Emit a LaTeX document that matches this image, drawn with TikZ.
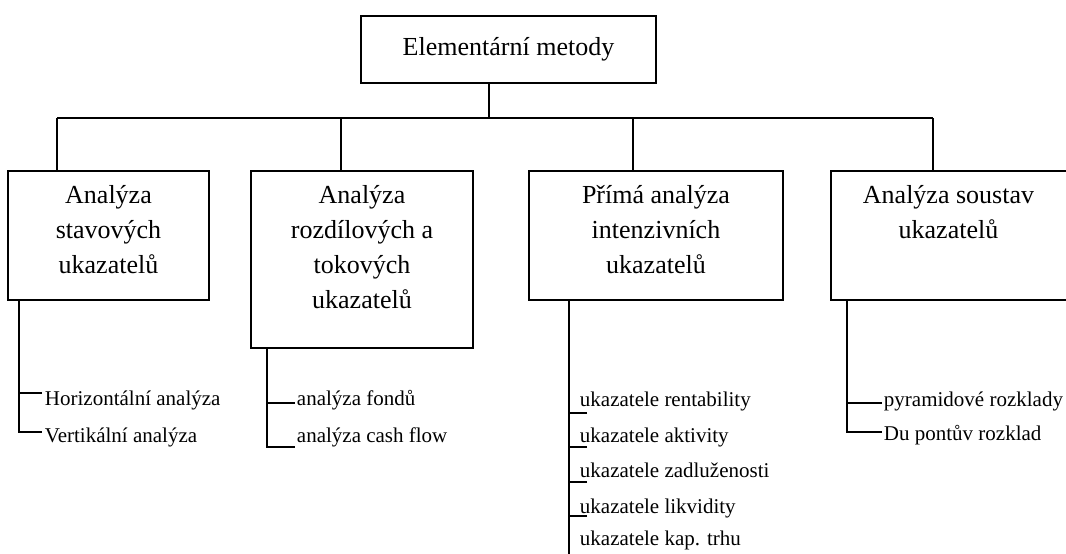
\documentclass[tikz,border=0pt]{standalone}
\usepackage{fontspec}
\setmainfont{Liberation Serif}
\usetikzlibrary{positioning}
\newcommand{\boxfont}{\fontsize{26}{35}\selectfont}
\newcommand{\itemfont}{\fontsize{21}{25}\selectfont}
\begin{document}
\begin{tikzpicture}[x=1pt, y=-1pt, line width=1.9pt, line join=miter,
	box/.style={draw, rectangle, inner sep=0pt, font=\boxfont},
	head/.style={anchor=north, align=center, inner sep=0pt, font=\boxfont},
	item/.style={anchor=base west, inner sep=0pt, font=\itemfont}]
	\useasboundingbox (0,0) rectangle (1066,554);
	% top box
	\node[box, minimum width=295pt, minimum height=67pt] (top) at (508.5,49.5) {Elementární metody};
	% four boxes
	\node[box, minimum width=201pt, minimum height=129pt] (b1) at (108.5,235.5) {};
	\node[box, minimum width=222pt, minimum height=177pt] (b2) at (362,259.5) {};
	\node[box, minimum width=254pt, minimum height=129pt] (b3) at (656,235.5) {};
	\node[box, minimum width=237pt, minimum height=129pt] (b4) at (949.5,235.5) {};
	\node[head, below=14pt of b1.north] (h1) {Analýza\\stavových\\ukazatelů};
	\node[head, below=14pt of b2.north] (h2) {Analýza\\rozdílových a\\tokových\\ukazatelů};
	\node[head, below=14pt of b3.north] (h3) {Přímá analýza\\intenzivních\\ukazatelů};
	\node[head, below=14pt of b4.north, xshift=-1pt] (h4) {Analýza soustav\\ukazatelů};
	% tree
	\coordinate (d0) at (489,118);
	\coordinate (d1) at (57,118);
	\coordinate (d2) at (341,118);
	\coordinate (d3) at (633,118);
	\coordinate (d4) at (933,118);
	\draw (top.south -| d0) -- (d0);
	\draw (d1) -- (d4);
	\foreach \i in {1,...,4} \draw (d\i) -- (d\i |- b\i.north);
	% items
	\node[item] (i11) at (44,405) {Horizontální analýza};
	\node[item] (i12) at (44,442) {Vertikální analýza};
	\node[item] (i21) at (296,405) {analýza fondů};
	\node[item] (i22) at (296,442) {analýza cash flow};
	\node[item] (i31) at (579,406) {ukazatele rentability};
	\node[item] (i32) at (579,442) {ukazatele aktivity};
	\node[item] (i33) at (579,477) {ukazatele zadluženosti};
	\node[item] (i34) at (579,513) {ukazatele likvidity};
	\node[item] (i35) at (579,545) {ukazatele kap. trhu};
	\node[item] (i41) at (883,406) {pyramidové rozklady};
	\node[item] (i42) at (883,440) {Du pontův rozklad};
	% item lines
	\draw (b1.south -| 19,0) |- ([xshift=-2pt,yshift=10pt]i12.base west);
	\draw ([xshift=-2pt,yshift=12pt]i11.base west) -- ++(-23,0);
	\draw (b2.south -| 267,0) |- ([xshift=-1pt,yshift=-5pt]i22.base west);
	\draw ([xshift=-1pt,yshift=2pt]i21.base west) -- ++(-28,0);
	\draw (b3.south -| 569,0) -- (569,554);
	\foreach \k/\s in {1/7,2/5,3/5,4/3}
		\draw ([xshift=8pt,yshift=-\s pt]i3\k.base west) -- ++(-18,0);
	\draw (b4.south -| 847,0) |- ([xshift=-1pt,yshift=8pt]i42.base west);
	\draw ([xshift=-1pt,yshift=3pt]i41.base west) -- ++(-35,0);
\end{tikzpicture}
\end{document}
